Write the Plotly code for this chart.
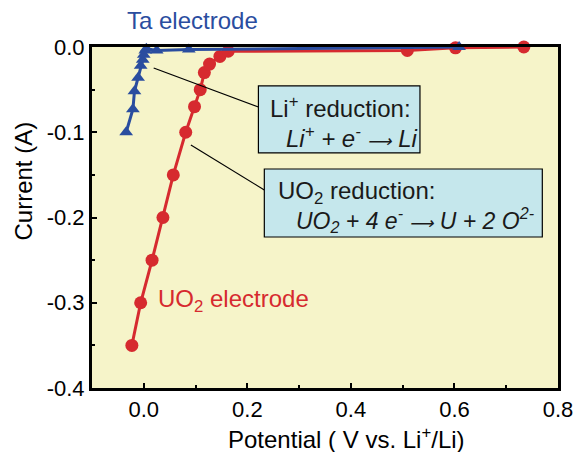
import plotly.graph_objects as go

# UO2 electrode (red circles)
uo2_potential = [-0.023, -0.006, 0.016, 0.037, 0.057, 0.081, 0.098, 0.109, 0.117, 0.127, 0.147, 0.163, 0.509, 0.602, 0.734]
uo2_current = [-0.35, -0.30, -0.25, -0.20, -0.15, -0.10, -0.07, -0.05, -0.03, -0.02, -0.011, -0.005, -0.004, -0.001, 0.0]

# Ta electrode (blue triangles)
ta_potential = [-0.034, -0.021, -0.018, -0.011, -0.006, -0.002, 0.0, 0.003, 0.005, 0.025, 0.087, 0.609]
ta_current = [-0.10, -0.073, -0.052, -0.036, -0.022, -0.015, -0.009, -0.004, -0.002, -0.004, -0.003, 0.0]

x_ticks = [0.0, 0.2, 0.4, 0.6, 0.8]
x_tick_labels = ["0.0", "0.2", "0.4", "0.6", "0.8"]
y_ticks = [0.0, -0.1, -0.2, -0.3, -0.4]
y_tick_labels = ["0.0", "-0.1", "-0.2", "-0.3", "-0.4"]

RED = "#D62A2F"
BLUE = "#2A4D9F"
FONT = "Liberation Sans, Arial, sans-serif"

fig = go.Figure()
fig.add_trace(go.Scatter(x=uo2_potential, y=uo2_current, mode="lines+markers",
                         line=dict(color=RED, width=3),
                         marker=dict(symbol="circle", size=13, color=RED),
                         cliponaxis=False, showlegend=False))
fig.add_trace(go.Scatter(x=ta_potential, y=ta_current, mode="lines+markers",
                         line=dict(color=BLUE, width=3),
                         marker=dict(symbol="triangle-up", size=12, color=BLUE),
                         cliponaxis=False, showlegend=False))

axis_common = dict(showline=True, linewidth=3, linecolor="black", mirror=True,
                   ticks="inside", ticklen=5, tickwidth=2, tickcolor="black",
                   showgrid=False, zeroline=False,
                   tickfont=dict(family=FONT, size=22, color="black"))

fig.update_xaxes(range=[-0.1, 0.8], tickvals=x_ticks, ticktext=x_tick_labels,
                 minor=dict(ticks="inside", ticklen=3, tickwidth=2, dtick=0.1, tick0=0, tickcolor="black"),
                 **axis_common)
fig.update_yaxes(range=[-0.4, 0.0], tickvals=y_ticks, ticktext=y_tick_labels,
                 minor=dict(ticks="inside", ticklen=3, tickwidth=2, dtick=0.05, tick0=0, tickcolor="black"),
                 **axis_common)

shapes = [
    dict(type="line", xref="x", yref="y", x0=0.0191, y0=-0.0246, x1=0.2214, y1=-0.0704,
         line=dict(color="black", width=1.2)),
    dict(type="line", xref="x", yref="y", x0=0.091, y0=-0.115, x1=0.2328, y1=-0.1677,
         line=dict(color="black", width=1.2)),
    dict(type="rect", xref="x", yref="y", x0=0.2214, y0=-0.0457, x1=0.5334, y1=-0.1243,
         fillcolor="#C5E7EC", line=dict(color="black", width=1.2)),
    dict(type="rect", xref="x", yref="y", x0=0.2328, y0=-0.1431, x1=0.7697, y1=-0.2229,
         fillcolor="#C5E7EC", line=dict(color="black", width=1.2)),
]

ARROW = "<span style='font-size:17px'>⟶</span>"
box_font = dict(family=FONT, size=24, color="#1a1a1a")
annotations = [
    dict(x=0.2403, y=-0.0704, xref="x", yref="y", xanchor="left", yanchor="middle",
         text="Li<sup>+</sup> reduction:", showarrow=False, font=box_font),
    dict(x=0.2706, y=-0.1056, xref="x", yref="y", xanchor="left", yanchor="middle",
         text="<i>Li<sup>+</sup> + e<sup>-</sup> " + ARROW + " Li</i>", showarrow=False, font=box_font),
    dict(x=0.2555, y=-0.1701, xref="x", yref="y", xanchor="left", yanchor="middle",
         text="UO<sub>2</sub> reduction:", showarrow=False, font=box_font),
    dict(x=0.2895, y=-0.2029, xref="x", yref="y", xanchor="left", yanchor="middle",
         text="<i>UO<sub>2</sub> + 4 e<sup>-</sup> " + ARROW + " U + 2 O<sup>2-</sup></i>",
         showarrow=False, font=dict(family=FONT, size=23, color="#1a1a1a")),
    dict(x=0.216, y=1.079, xref="paper", yref="paper", xanchor="center", yanchor="middle",
         text="Ta electrode", showarrow=False, font=dict(family=FONT, size=24, color=BLUE)),
    dict(x=0.137, y=0.258, xref="paper", yref="paper", xanchor="left", yanchor="middle",
         text="UO<sub>2</sub> electrode", showarrow=False, font=dict(family=FONT, size=24, color=RED)),
    dict(x=-0.147, y=0.607, xref="paper", yref="paper", xanchor="center", yanchor="middle",
         text="Current (A)", textangle=-90, showarrow=False, font=dict(family=FONT, size=24, color="black")),
    dict(x=0.546, y=-0.148, xref="paper", yref="paper", xanchor="center", yanchor="middle",
         text="Potential ( V vs. Li<sup>+</sup>/Li)", showarrow=False, font=dict(family=FONT, size=24, color="black")),
]

fig.update_layout(width=585, height=452, margin=dict(l=92, r=17, t=47, b=64),
                  paper_bgcolor="white", plot_bgcolor="#F6F4C9",
                  shapes=shapes, annotations=annotations, showlegend=False)

fig.write_html("out.html", config={"displayModeBar": False},
               post_script="document.body.style.margin='0';document.body.style.overflow='hidden';")
